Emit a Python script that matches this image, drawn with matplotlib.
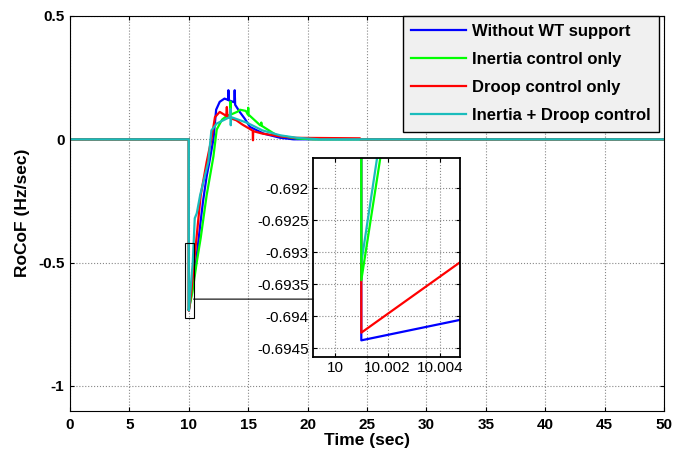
import matplotlib
matplotlib.use("Agg")
import matplotlib.pyplot as plt
from matplotlib.patches import Rectangle, ConnectionPatch
from matplotlib.transforms import blended_transform_factory

plt.rcParams['font.family'] = ['Liberation Sans', 'DejaVu Sans']
plt.rcParams['axes.unicode_minus'] = False

labels = ["Without WT support", "Inertia control only", "Droop control only", "Inertia + Droop control"]
colors = ["#0000FF", "#00FF00", "#FF0000", "#1ABCBC"]

blue_t = [0, 10.0, 10.001, 10.005, 10.3, 10.6, 11.0, 11.2, 11.5, 11.73, 12.07, 12.3, 12.6, 13.0,
          13.3, 13.33, 13.36, 13.83, 13.86, 13.9, 14.3, 14.7, 15.15, 16.3, 17.7, 18.8, 50]
blue_v = [0, 0, -0.69438, -0.69404, -0.60, -0.50, -0.33, -0.25, -0.15, -0.092, 0.0, 0.12, 0.152, 0.165,
          0.16, 0.199, 0.158, 0.15, 0.199, 0.14, 0.11, 0.084, 0.05, 0.023, 0.006, 0, 0]

green_t = [0, 10.0, 10.001, 10.002, 10.3, 10.66, 11.0, 11.5, 12.07, 12.35, 12.8, 13.2, 13.48, 13.5,
           13.53, 14.1, 14.3, 14.8, 14.97, 15.0, 15.03, 16.0, 16.08, 16.1, 16.13, 17.4, 19.1, 20.5, 50]
green_v = [0, 0, -0.69344, -0.6908, -0.62, -0.50, -0.40, -0.227, -0.07, 0.04, 0.08, 0.095, 0.10, 0.153,
           0.10, 0.112, 0.12, 0.115, 0.10, 0.128, 0.10, 0.057, 0.057, 0.068, 0.055, 0.016, 0.003, 0, 0]

red_t = [0, 10.0, 10.001, 10.005, 10.2, 10.44, 11.0, 11.5, 11.9, 12.2, 12.6, 13.15, 13.2, 13.25,
         14.0, 14.5, 15.38, 15.4, 15.42, 16.2, 17.7, 19.0, 24.4, 24.45, 50]
red_v = [0, 0, -0.69426, -0.69309, -0.62, -0.50, -0.227, -0.092, 0.0, 0.09, 0.111, 0.095, 0.131, 0.09,
         0.077, 0.06, 0.035, -0.004, 0.033, 0.023, 0.012, 0.006, 0.004, 0, 0]

cyan_t = [0, 10.0, 10.001, 10.002, 10.33, 10.5, 10.67, 10.95, 11.64, 11.9, 12.35, 12.9, 13.45, 13.5,
          13.53, 13.56, 14.9, 16.2, 17.7, 19.1, 21.0, 50]
cyan_v = [0, 0, -0.69317, -0.69044, -0.50, -0.32, -0.30, -0.227, -0.092, 0.036, 0.064, 0.077, 0.09, 0.124,
          0.057, 0.09, 0.067, 0.036, 0.016, 0.006, 0, 0]

series_t = [blue_t, green_t, red_t, cyan_t]
series_v = [blue_v, green_v, red_v, cyan_v]

x_ticks = [0, 5, 10, 15, 20, 25, 30, 35, 40, 45, 50]
y_ticks = [-1, -0.5, 0, 0.5]
y_ticklabels = ["-1", "-0.5", "0", "0.5"]
inset_xticks = [10, 10.002, 10.004]
inset_xticklabels = ["10", "10.002", "10.004"]
inset_yticks = [-0.6945, -0.694, -0.6935, -0.693, -0.6925, -0.692]
inset_yticklabels = ["-0.6945", "-0.694", "-0.6935", "-0.693", "-0.6925", "-0.692"]

fig = plt.figure(figsize=(6.74, 4.54), dpi=100)
ax = fig.add_axes([0.1039, 0.0956, 0.8813, 0.8692])

for t, v, c, l in zip(series_t, series_v, colors, labels):
    ax.plot(t, v, color=c, lw=1.6, label=l)

ax.set_xlim(0, 50)
ax.set_ylim(-1.1, 0.5)
ax.set_xticks(x_ticks)
ax.set_xticklabels([str(x) for x in x_ticks], fontsize=11, fontweight='bold')
ax.set_yticks(y_ticks)
ax.set_yticklabels(y_ticklabels, fontsize=11, fontweight='bold')
ax.tick_params(direction='in', top=True, right=True, length=3, pad=4)
ax.tick_params(axis='x', pad=5)
ax.grid(True, color='#888888', linestyle=':', linewidth=0.8)
ax.set_xlabel("Time (sec)", fontsize=12.5, fontweight='bold', labelpad=1)
ax.set_ylabel("RoCoF (Hz/sec)", fontsize=12.5, fontweight='bold', labelpad=6)

leg = ax.legend(loc='upper right', bbox_to_anchor=(0.9916, 1.0), borderaxespad=0,
                prop={'weight': 'bold', 'size': 12}, handlelength=3.3, handletextpad=0.35,
                labelspacing=0.78, borderpad=0.5, fancybox=False, framealpha=1,
                facecolor='#f0f0f0', edgecolor='black')
leg.get_frame().set_linewidth(1.0)

# zoom box
ax.add_patch(Rectangle((9.7, -0.725), 0.7, 0.305, fill=False, edgecolor='black', lw=0.8, zorder=5))

ins = fig.add_axes([0.4644, 0.2137, 0.2181, 0.4383])
ins.patch.set_alpha(0)
order = [0, 2, 3, 1]
for i in order:
    ins.plot(series_t[i], series_v[i], color=colors[i], lw=1.6)
ins.set_xlim(9.99916, 10.00476)
ins.set_ylim(-0.69464, -0.69153)
ins.set_xticks(inset_xticks)
ins.set_xticklabels(inset_xticklabels, fontsize=11)
ins.set_yticks(inset_yticks)
ins.set_yticklabels(inset_yticklabels, fontsize=11)
ins.tick_params(direction='in', top=True, right=True, length=3, pad=3)
ins.grid(True, color='#888888', linestyle=':', linewidth=0.8)
for s in ins.spines.values():
    s.set_linewidth(1.3)

con = ConnectionPatch(xyA=(10.4, -0.648), coordsA=ax.transData,
                      xyB=(0, -0.648), coordsB=blended_transform_factory(ins.transAxes, ax.transData),
                      color='black', lw=0.8)
fig.add_artist(con)

fig.savefig("out.png", dpi=100)
